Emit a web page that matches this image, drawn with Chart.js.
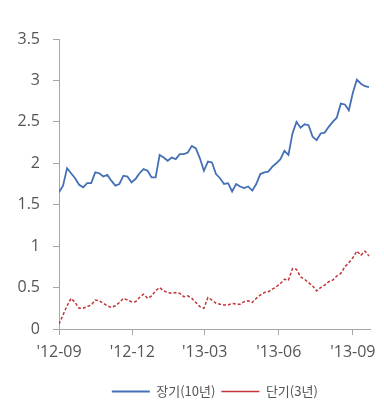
<!DOCTYPE html>
<html>
<head>
<meta charset="utf-8">
<script src="https://cdn.jsdelivr.net/npm/chart.js@4/dist/chart.umd.min.js"></script>
<style>
  html, body { margin: 0; padding: 0; background: #ffffff; }
  #wrap { width: 384px; height: 402px; }
</style>
</head>
<body>
<div id="wrap"><canvas id="c" width="384" height="402"></canvas></div>
<script>
// Calendar days counted from 2012-09-01 (one reading every 5 days)
const days = [];
for (let d = 0; d <= 385; d += 5) days.push(d);

// Treasury yields, %
const longYield = [
  1.65, 1.73, 1.94, 1.88, 1.82, 1.74, 1.71, 1.76, 1.76, 1.89,
  1.88, 1.84, 1.86, 1.79, 1.73, 1.75, 1.85, 1.84, 1.77, 1.81,
  1.88, 1.93, 1.91, 1.83, 1.83, 2.10, 2.07, 2.03, 2.07, 2.05,
  2.11, 2.11, 2.13, 2.21, 2.18, 2.06, 1.91, 2.02, 2.01, 1.87,
  1.82, 1.75, 1.76, 1.66, 1.75, 1.72, 1.70, 1.72, 1.67, 1.75,
  1.87, 1.89, 1.90, 1.96, 2.00, 2.05, 2.15, 2.10, 2.36, 2.50,
  2.43, 2.47, 2.46, 2.32, 2.28, 2.36, 2.37, 2.44, 2.50, 2.55,
  2.72, 2.71, 2.64, 2.85, 3.01, 2.96, 2.93, 2.92
];
const shortYield = [
  0.06, 0.17, 0.28, 0.37, 0.32, 0.25, 0.25, 0.27, 0.29, 0.35,
  0.34, 0.31, 0.28, 0.26, 0.28, 0.32, 0.37, 0.35, 0.33, 0.33,
  0.38, 0.42, 0.37, 0.40, 0.46, 0.50, 0.46, 0.44, 0.43, 0.44,
  0.43, 0.39, 0.40, 0.37, 0.32, 0.27, 0.25, 0.38, 0.35, 0.31,
  0.30, 0.29, 0.29, 0.31, 0.30, 0.30, 0.33, 0.34, 0.32, 0.37,
  0.41, 0.44, 0.45, 0.48, 0.51, 0.55, 0.60, 0.59, 0.73, 0.72,
  0.63, 0.60, 0.56, 0.52, 0.46, 0.50, 0.53, 0.57, 0.59, 0.64,
  0.67, 0.75, 0.80, 0.86, 0.94, 0.89, 0.94, 0.88
];

const seriesNames = ['장기(10년)', '단기(3년)'];
const tickDays = [0, 91, 181, 273, 365];
const tickLabels = ["'12-09", "'12-12", "'13-03", "'13-06", "'13-09"];

const toPoints = vals => vals.map((v, i) => ({ x: days[i], y: v }));

const axisGray = '#a6a6a6';
const textGray = '#555555';

new Chart(document.getElementById('c'), {
  type: 'line',
  data: {
    datasets: [
      {
        label: seriesNames[0],
        data: toPoints(longYield),
        borderColor: '#4470b5',
        backgroundColor: '#4470b5',
        borderWidth: 1.8,
        pointRadius: 0,
        tension: 0,
        pointStyle: 'line'
      },
      {
        label: seriesNames[1],
        data: toPoints(shortYield),
        borderColor: '#c0353a',
        backgroundColor: '#c0353a',
        borderWidth: 1.5,
        borderDash: [3, 2],
        pointRadius: 0,
        tension: 0,
        pointStyle: 'line'
      }
    ]
  },
  options: {
    responsive: false,
    animation: false,
    layout: { padding: { top: 39, right: 9, bottom: -6, left: 0 } },
    plugins: {
      tooltip: { enabled: false },
      legend: {
        position: 'bottom',
        fullSize: false,
        labels: {
          usePointStyle: true,
          pointStyleWidth: 38,
          padding: 6,
          color: textGray,
          font: { family: "'Noto Sans CJK KR', 'Noto Sans', sans-serif", size: 13 }
        }
      }
    },
    scales: {
      x: {
        type: 'linear',
        min: 0,
        max: 387,
        afterBuildTicks: s => { s.ticks = tickDays.map(v => ({ value: v })); },
        afterFit: s => { s.height = 50; },
        ticks: {
          autoSkip: false,
          maxRotation: 0,
          padding: 8,
          color: textGray,
          font: { family: "'Open Sans', sans-serif", size: 16 },
          callback: v => tickLabels[tickDays.indexOf(v)]
        },
        grid: { drawOnChartArea: false, color: axisGray, tickLength: 6 },
        border: { color: axisGray, width: 1 }
      },
      y: {
        min: 0,
        max: 3.5,
        afterFit: s => { s.width = 59; },
        ticks: {
          stepSize: 0.5,
          padding: 13,
          color: textGray,
          font: { family: "'Open Sans', sans-serif", size: 16 },
          callback: v => String(v)
        },
        grid: { drawOnChartArea: false, color: axisGray, tickLength: 6 },
        border: { color: axisGray, width: 1 }
      }
    }
  }
});
</script>
</body>
</html>
